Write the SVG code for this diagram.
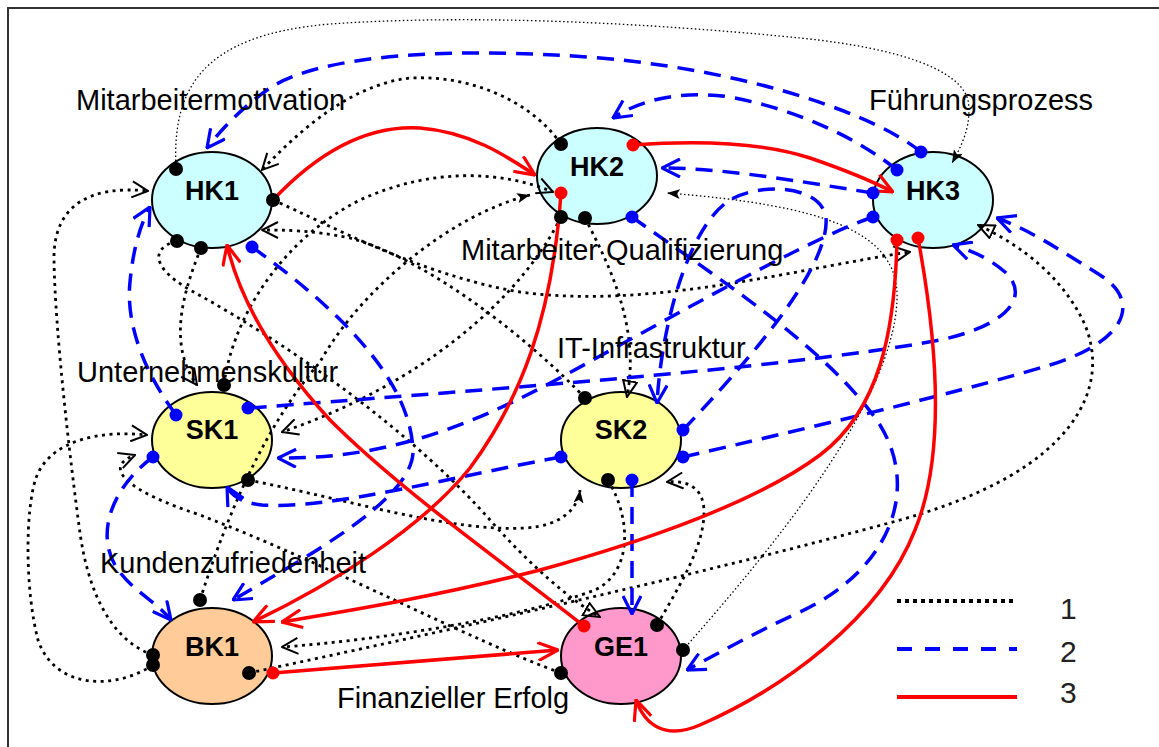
<svg xmlns="http://www.w3.org/2000/svg" width="1159" height="747" viewBox="0 0 1159 747">
  <style>
    .node { stroke: #000; stroke-width: 2; }
    .hk { fill: #ccffff; }
    .sk { fill: #ffff99; }
    .bk { fill: #ffcc99; }
    .ge { fill: #ff99cc; }
    .nm { font-family: "Liberation Sans", Arial, sans-serif; font-weight: bold; font-size: 27px; text-anchor: middle; fill: #000; }
    .lbl { font-family: "Liberation Sans", Arial, sans-serif; font-size: 29px; fill: #000; }
    .leg { font-family: "Liberation Sans", Arial, sans-serif; font-size: 30px; fill: #222; }
    .k { fill: none; stroke: #000; stroke-width: 2.8; stroke-dasharray: 3 4.5; }
    .kt { fill: none; stroke: #000; stroke-width: 1.3; stroke-dasharray: 1.5 2.5; }
    .b { fill: none; stroke: #0000ff; stroke-width: 3.5; stroke-dasharray: 17 10; }
    .r { fill: none; stroke: #ff0000; stroke-width: 3.5; }
    .dk { fill: #000; }
    .db { fill: #0000ff; }
    .dr { fill: #ff0000; }
  </style>
  <defs>
    <marker id="ak" viewBox="0 0 18 18" refX="17" refY="9" markerWidth="18" markerHeight="18" orient="auto" markerUnits="userSpaceOnUse">
      <path d="M1,1 L17,9 L1,17" fill="none" stroke="#000" stroke-width="2"/>
    </marker>
    <marker id="akf" viewBox="0 0 13 10" refX="13" refY="5" markerWidth="13" markerHeight="10" orient="auto" markerUnits="userSpaceOnUse">
      <path d="M0,0 L13,5 L0,10 L3,5 Z" fill="#000"/>
    </marker>
    <marker id="akt" viewBox="0 0 18 16" refX="17" refY="8" markerWidth="18" markerHeight="16" orient="auto" markerUnits="userSpaceOnUse">
      <path d="M1,1 L17,8 L1,15 Z" fill="none" stroke="#000" stroke-width="2"/>
    </marker>
    <marker id="ab" viewBox="0 0 20 20" refX="19" refY="10" markerWidth="20" markerHeight="20" orient="auto" markerUnits="userSpaceOnUse">
      <path d="M1,1 L19,10 L1,19" fill="none" stroke="#0000ff" stroke-width="3.2"/>
    </marker>
    <marker id="ar" viewBox="0 0 22 20" refX="21" refY="10" markerWidth="22" markerHeight="20" orient="auto" markerUnits="userSpaceOnUse">
      <path d="M1,1 L21,10 L1,19" fill="none" stroke="#ff0000" stroke-width="3.2"/>
    </marker>
  </defs>

  <rect x="0" y="0" width="1159" height="747" fill="#fff"/>
  <rect x="8" y="8" width="1180" height="780" fill="none" stroke="#333" stroke-width="2"/>

  <!-- nodes -->
  <g id="HK1"><ellipse class="node hk" cx="212" cy="200" rx="60" ry="48"/><text class="nm" x="212" y="200">HK1</text></g>
  <g id="HK2"><ellipse class="node hk" cx="597" cy="176" rx="60" ry="48"/><text class="nm" x="597" y="176">HK2</text></g>
  <g id="HK3"><ellipse class="node hk" cx="933" cy="200" rx="60" ry="48"/><text class="nm" x="933" y="200">HK3</text></g>
  <g id="SK1"><ellipse class="node sk" cx="212" cy="440" rx="60" ry="48"/><text class="nm" x="212" y="439">SK1</text></g>
  <g id="SK2"><ellipse class="node sk" cx="621" cy="440" rx="60" ry="48"/><text class="nm" x="621" y="439">SK2</text></g>
  <g id="BK1"><ellipse class="node bk" cx="212" cy="656" rx="60" ry="48"/><text class="nm" x="212" y="656">BK1</text></g>
  <g id="GE1"><ellipse class="node ge" cx="621" cy="656" rx="60" ry="48"/><text class="nm" x="621" y="656">GE1</text></g>

  <!-- connectors -->
  <g id="connectors">
    <!-- strength 1: dotted -->
    <path class="kt" d="M176,169 C172,90 200,35 330,24 C500,12 700,28 800,38 C900,48 960,70 968,100 C972,125 962,145 952,163" marker-end="url(#akf)"/>
    <path class="kt" d="M683,650 C780,540 893,400 897,300 C900,230 820,205 667,193" marker-end="url(#akf)"/>
    <path class="k" d="M561,144 C530,100 470,75 410,78 C350,85 300,130 262,170" marker-end="url(#ak)"/>
    <path class="k" d="M273,200 C330,225 420,275 520,292 C650,310 800,268 910,252" marker-end="url(#ak)"/>
    <path class="k" d="M585,398 C530,340 430,260 350,238 C310,230 285,230 262,230" marker-end="url(#ak)"/>
    <path class="k" d="M201,248 C182,295 168,345 197,385" marker-end="url(#ak)"/>
    <path class="k" d="M224,385 C232,320 280,240 360,200 C430,168 500,170 553,192" marker-end="url(#ak)"/>
    <path class="k" d="M561,217 C520,300 420,385 282,432" marker-end="url(#ak)"/>
    <path class="k" d="M200,600 C232,500 270,420 320,362 C360,290 450,215 530,195" marker-end="url(#akf)"/>
    <path class="k" d="M153,655 C110,640 88,590 80,533 C70,460 55,330 54,260 C53,205 90,185 148,191" marker-end="url(#ak)"/>
    <path class="k" d="M153,665 C115,690 55,690 38,640 C25,590 25,510 36,478 C50,440 100,430 147,435" marker-end="url(#ak)"/>
    <path class="k" d="M561,673 C470,640 330,565 200,515 C130,492 100,468 135,455" marker-end="url(#ak)"/>
    <path class="k" d="M177,241 C150,248 152,268 190,290 C300,350 420,440 490,520 C530,565 570,600 600,617" marker-end="url(#akt)"/>
    <path class="k" d="M248,480 C350,500 450,532 525,528 C562,526 578,508 580,490" marker-end="url(#akf)"/>
    <path class="k" d="M585,218 C612,270 640,330 627,397" marker-end="url(#akt)"/>
    <path class="k" d="M608,480 C632,520 632,572 595,590 C520,618 380,640 282,647" marker-end="url(#ak)"/>
    <path class="k" d="M657,625 C680,585 705,545 704,510 C703,488 688,480 667,482" marker-end="url(#ak)"/>
    <path class="k" d="M249,673 C450,630 700,575 900,520 C1080,470 1110,385 1085,325 C1060,270 1010,240 978,225" marker-end="url(#akt)"/>

    <!-- strength 2: dashed -->
    <path class="b" d="M921,152 C880,118 760,72 600,58 C450,46 320,55 270,88 C245,105 222,128 207,148" marker-end="url(#ab)"/>
    <path class="b" d="M897,170 C860,140 800,110 730,97 C680,90 640,100 613,118" marker-end="url(#ab)"/>
    <path class="b" d="M873,193 C820,185 730,168 662,168" marker-end="url(#ab)"/>
    <path class="b" d="M873,217 C820,235 720,290 620,345 C520,400 420,460 278,458" marker-end="url(#ab)"/>
    <path class="b" d="M683,430 C740,370 830,270 826,218 C822,185 760,182 730,200 C690,225 662,320 657,403" marker-end="url(#ab)"/>
    <path class="b" d="M683,457 C800,430 950,395 1050,365 C1130,340 1140,300 1100,275 C1060,250 1030,230 997,218" marker-end="url(#ab)"/>
    <path class="b" d="M250,408 C450,392 780,370 940,340 C1010,325 1030,295 1005,272 C985,255 968,250 953,245" marker-end="url(#ab)"/>
    <path class="b" d="M561,457 C460,475 330,510 262,505 C242,503 232,496 227,487" marker-end="url(#ab)"/>
    <path class="b" d="M153,457 C115,485 95,530 115,565 C130,590 155,600 171,620" marker-end="url(#ab)"/>
    <path class="b" d="M176,415 C150,380 125,330 130,282 C133,250 140,225 150,207" marker-end="url(#ab)"/>
    <path class="b" d="M252,247 C340,310 410,380 413,450 C415,500 300,560 233,600" marker-end="url(#ab)"/>
    <path class="b" d="M632,480 L632,614" marker-end="url(#ab)"/>
    <path class="b" d="M632,217 C720,280 830,350 880,425 C920,490 890,570 800,612 C750,635 715,655 687,670" marker-end="url(#ab)"/>

    <!-- strength 3: solid -->
    <path class="r" d="M273,200 C320,150 370,125 420,128 C470,132 505,155 535,175" marker-end="url(#ar)"/>
    <path class="r" d="M633,145 C700,140 760,142 810,158 C845,170 870,180 893,192" marker-end="url(#ar)"/>
    <path class="r" d="M561,193 C552,320 520,400 470,468 C420,530 330,585 253,622" marker-end="url(#ar)"/>
    <path class="r" d="M897,240 C895,330 880,410 820,455 C760,500 650,540 540,570 C430,598 340,612 282,622" marker-end="url(#ar)"/>
    <path class="r" d="M918,238 C935,330 948,450 915,530 C880,620 780,690 700,725 C665,740 645,725 636,700" marker-end="url(#ar)"/>
    <path class="r" d="M273,673 C380,665 470,657 558,650" marker-end="url(#ar)"/>
    <path class="r" d="M584,626 C500,560 400,490 330,420 C275,360 240,300 227,245" marker-end="url(#ar)"/>

    <!-- source dots -->
    <g class="dr">
      <circle cx="633" cy="145" r="6.5"/><circle cx="561" cy="193" r="6.5"/>
      <circle cx="897" cy="240" r="6.5"/><circle cx="918" cy="238" r="6.5"/>
      <circle cx="273" cy="673" r="6.5"/><circle cx="584" cy="626" r="6.5"/>
    </g>
    <g class="db">
      <circle cx="921" cy="152" r="6.5"/><circle cx="897" cy="170" r="6.5"/>
      <circle cx="873" cy="193" r="6.5"/><circle cx="873" cy="217" r="6.5"/>
      <circle cx="683" cy="430" r="6.5"/><circle cx="683" cy="457" r="6.5"/>
      <circle cx="248" cy="408" r="6.5"/><circle cx="561" cy="457" r="6.5"/>
      <circle cx="153" cy="457" r="6.5"/><circle cx="176" cy="415" r="6.5"/>
      <circle cx="252" cy="247" r="6.5"/><circle cx="632" cy="480" r="6.5"/>
      <circle cx="632" cy="217" r="6.5"/>
    </g>
    <g class="dk">
      <circle cx="176" cy="169" r="7"/><circle cx="273" cy="200" r="7"/>
      <circle cx="177" cy="241" r="7"/><circle cx="201" cy="248" r="7"/>
      <circle cx="561" cy="144" r="7"/><circle cx="561" cy="217" r="7"/>
      <circle cx="585" cy="218" r="7"/>
      <circle cx="224" cy="385" r="7"/><circle cx="248" cy="480" r="7"/>
      <circle cx="585" cy="398" r="7"/><circle cx="608" cy="480" r="7"/>
      <circle cx="200" cy="600" r="7"/><circle cx="153" cy="655" r="7"/>
      <circle cx="153" cy="665" r="7"/><circle cx="249" cy="673" r="7"/>
      <circle cx="561" cy="673" r="7"/><circle cx="657" cy="625" r="7"/>
      <circle cx="683" cy="650" r="7"/>
    </g>
  </g>

  <!-- factor labels -->
  <g id="labels">
    <text class="lbl" x="76" y="110">Mitarbeitermotivation</text>
    <text class="lbl" x="869" y="110">Führungsprozess</text>
    <text class="lbl" x="461" y="260">Mitarbeiter Qualifizierung</text>
    <text class="lbl" x="557" y="358">IT-Infrastruktur</text>
    <text class="lbl" x="77" y="382">Unternehmenskultur</text>
    <text class="lbl" x="100" y="573">Kundenzufriedenheit</text>
    <text class="lbl" x="337" y="708">Finanzieller Erfolg</text>
  </g>

  <!-- legend -->
  <g id="legend">
    <line x1="897" y1="601" x2="1013" y2="601" stroke="#000" stroke-width="4" stroke-dasharray="4 4"/>
    <line x1="897" y1="649" x2="1017" y2="649" stroke="#0000ff" stroke-width="4" stroke-dasharray="15 13"/>
    <line x1="897" y1="697" x2="1017" y2="697" stroke="#ff0000" stroke-width="4"/>
    <text class="leg" x="1060" y="619">1</text>
    <text class="leg" x="1060" y="662">2</text>
    <text class="leg" x="1060" y="703">3</text>
  </g>
</svg>
